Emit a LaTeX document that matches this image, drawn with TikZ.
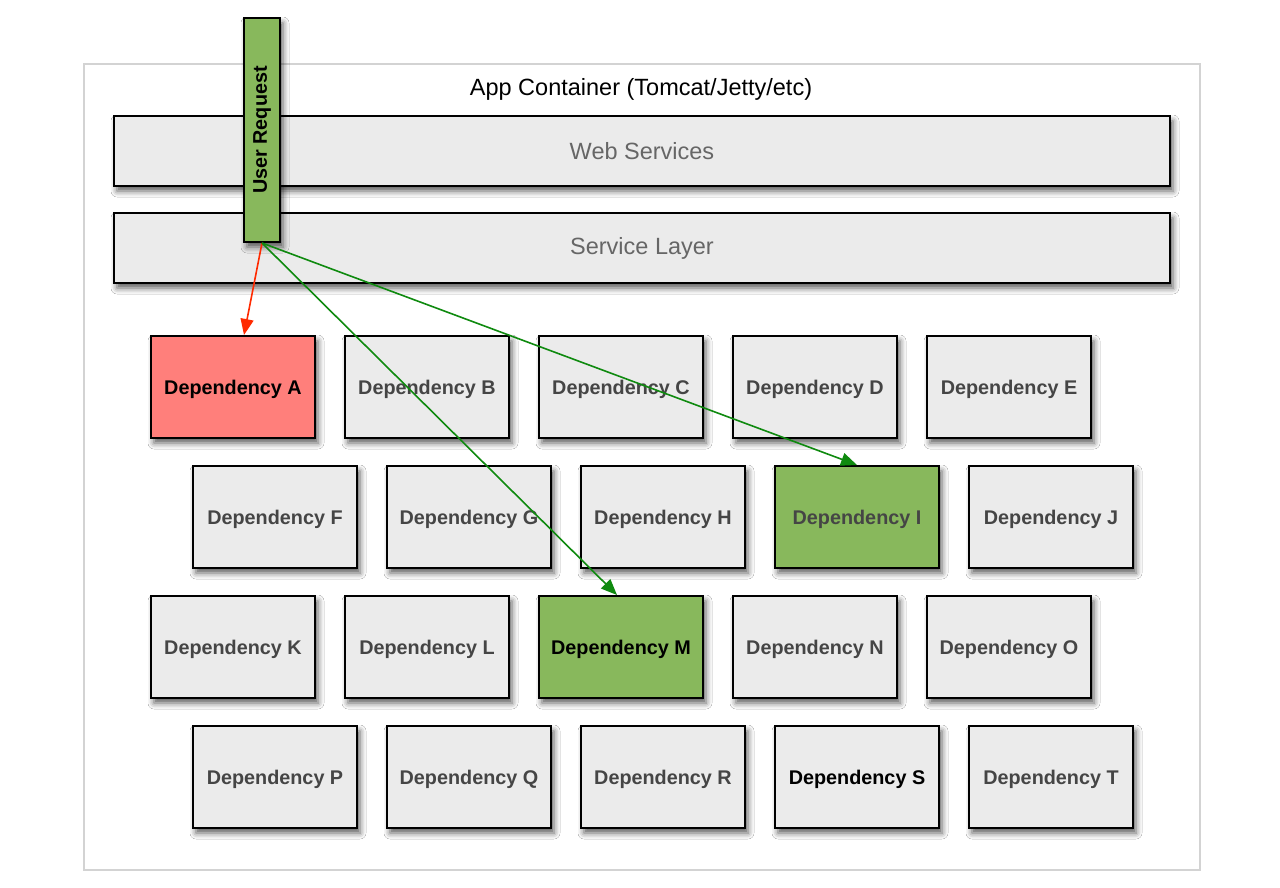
\documentclass[tikz,border=0pt]{standalone}
\usepackage{fontspec}
\setmainfont{Liberation Sans}
\usetikzlibrary{arrows.meta,shadows.blur}
\definecolor{boxgray}{HTML}{EBEBEB}
\definecolor{txtgray}{HTML}{454545}
\definecolor{lblgray}{HTML}{666666}
\definecolor{okgreen}{HTML}{88B85C}
\definecolor{badred}{HTML}{FF7F7B}
\definecolor{arrgreen}{HTML}{0F8A0F}
\definecolor{arrred}{HTML}{FF2A00}
\definecolor{contgray}{HTML}{D3D3D3}
\tikzset{
  softshadow/.style={blur shadow={shadow xshift=3pt,shadow yshift=-5pt,shadow blur radius=6pt,shadow opacity=65}},
  depbox/.style={draw=black,line width=2pt,fill=boxgray,minimum width=164pt,minimum height=102pt,
    inner sep=0pt,softshadow,text=txtgray,font=\fontsize{19.8}{22}\selectfont\bfseries,text depth=0pt,
    text height=14pt},
  layerbox/.style={draw=black,line width=2pt,fill=boxgray,minimum width=1056pt,minimum height=70pt,
    inner sep=0pt,softshadow,text=lblgray,font=\fontsize{23.5}{26}\selectfont},
  reqbar/.style={draw=black,line width=2pt,fill=okgreen,minimum width=36pt,minimum height=224pt,
    inner sep=0pt,softshadow},
  callok/.style={draw=arrgreen,line width=1.6pt,-{Triangle[length=16pt,width=13pt]}},
  callbad/.style={draw=arrred,line width=1.6pt,-{Triangle[length=16pt,width=13pt]}},
}
\begin{document}
\begin{tikzpicture}[x=1pt,y=-1pt]
\useasboundingbox (0,0) rectangle (1280,888);
\fill[white] (0,0) rectangle (1280,888);
\node[draw=contgray,line width=2pt,fill=white,minimum width=1116pt,minimum height=806pt,inner sep=0pt] (cont) at (642,467) {};
\node[font=\fontsize{23.5}{26}\selectfont,text=black] (title) at (641,89) {App Container (Tomcat/Jetty/etc)};
\node[layerbox] (web) at (642,151) {Web Services};
\node[layerbox] (svc) at (642,248) {Service Layer};
% row 1
\node[depbox,fill=badred,text=black] (A) at (233,387) {Dependency A};
\node[depbox] (B) at (427,387) {Dependency B};
\node[depbox] (C) at (621,387) {Dependency C};
\node[depbox] (D) at (815,387) {Dependency D};
\node[depbox] (E) at (1009,387) {Dependency E};
% row 2
\node[depbox] (F) at (275,517) {Dependency F};
\node[depbox] (G) at (469,517) {Dependency G};
\node[depbox] (H) at (663,517) {Dependency H};
\node[depbox,fill=okgreen] (I) at (857,517) {Dependency I};
\node[depbox] (J) at (1051,517) {Dependency J};
% row 3
\node[depbox] (K) at (233,647) {Dependency K};
\node[depbox] (L) at (427,647) {Dependency L};
\node[depbox,fill=okgreen,text=black] (M) at (621,647) {Dependency M};
\node[depbox] (N) at (815,647) {Dependency N};
\node[depbox] (O) at (1009,647) {Dependency O};
% row 4
\node[depbox] (P) at (275,777) {Dependency P};
\node[depbox] (Q) at (469,777) {Dependency Q};
\node[depbox] (R) at (663,777) {Dependency R};
\node[depbox,text=black] (S) at (857,777) {Dependency S};
\node[depbox] (T) at (1051,777) {Dependency T};
% user request
\node[reqbar] (ur) at (262,130) {};
\node[rotate=90,font=\fontsize{19.8}{22}\selectfont\bfseries,text=black] (urlbl) at (ur.center) {User Request};
% calls
\draw[callbad] (ur.south) -- ([xshift=11pt]A.north);
\draw[callok] (ur.south) -- ([xshift=-4pt]M.north);
\draw[callok] (ur.south) -- (I.north);
\end{tikzpicture}
\end{document}
